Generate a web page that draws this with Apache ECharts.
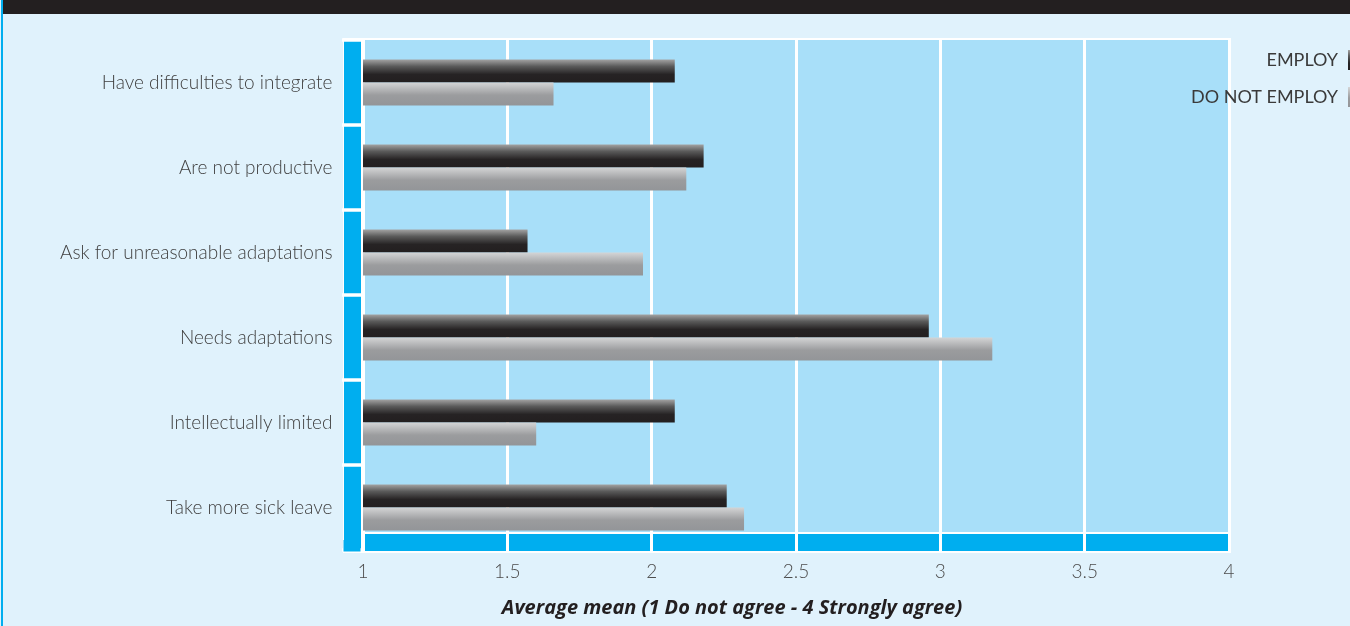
<!DOCTYPE html>
<html>
<head>
<meta charset="utf-8">
<script src="https://cdn.jsdelivr.net/npm/echarts@6/dist/echarts.min.js"></script>
<style>
  html, body { margin: 0; padding: 0; background: #e0f2fc; }
  #chart { width: 1350px; height: 626px; }
</style>
</head>
<body>
<div id="chart"></div>
<script>
// Statements about employees with disabilities, top to bottom
const categories = [
  'Have difficulties to integrate',
  'Are not productive',
  'Ask for unreasonable adaptations',
  'Needs adaptations',
  'Intellectually limited',
  'Take more sick leave'
];
// Average agreement (1 = do not agree, 4 = strongly agree)
const employValues      = [2.08, 2.18, 1.57, 2.96, 2.08, 2.26];
const doNotEmployValues = [1.66, 2.12, 1.97, 3.18, 1.60, 2.32];
const seriesNames = ['EMPLOY', 'DO NOT EMPLOY'];
const xTicks = { min: 1, max: 4, step: 0.5 };
const xAxisTitle = 'Average mean (1 Do not agree - 4 Strongly agree)';

const FONT = 'Lato';
const STRIP = '#00aeef';

const chart = echarts.init(document.getElementById('chart'), null, { renderer: 'canvas' });

const darkGrad = new echarts.graphic.LinearGradient(0, 0, 0, 1, [
  { offset: 0, color: '#a3a3a3' },
  { offset: 0.3, color: '#5a5a5a' },
  { offset: 0.65, color: '#262324' },
  { offset: 1, color: '#231f20' }
]);
const greyGrad = new echarts.graphic.LinearGradient(0, 0, 0, 1, [
  { offset: 0, color: '#d4d5d6' },
  { offset: 0.55, color: '#9b9c9e' },
  { offset: 1, color: '#939598' }
]);

const legendBase = {
  orient: 'vertical',
  right: -18,
  padding: 0,
  align: 'right',
  icon: 'rect',
  itemWidth: 20,
  itemHeight: 20,
  textStyle: { fontFamily: FONT, fontSize: 18, color: '#3a3a3a', padding: [0, 5, 0, 0] }
};

const xScale = { type: 'value', min: xTicks.min, max: xTicks.max, interval: xTicks.step };

chart.setOption({
  backgroundColor: '#e0f2fc',
  animation: false,
  graphic: [
    // thin coloured rule at the left edge
    { type: 'rect', shape: { x: 1, y: 0, width: 2, height: 626 }, style: { fill: STRIP }, z: -5 },
    // dark heading band
    { type: 'rect', shape: { x: 3, y: 0, width: 1347, height: 14 }, style: { fill: '#231f20' }, z: -5 },
    // white frame around the plot
    { type: 'rect', shape: { x: 343, y: 38, width: 888, height: 515 }, style: { fill: '#ffffff' }, z: -5 },
    // bottom end of the category strip
    { type: 'rect', shape: { x: 343.5, y: 540, width: 17, height: 11.5 }, style: { fill: STRIP }, z: 50 }
  ],
  legend: [
    Object.assign({}, legendBase, { top: 50, data: [seriesNames[0]] }),
    Object.assign({}, legendBase, { top: 87, data: [seriesNames[1]] })
  ],
  grid: [
    // value scale, gridlines and the bottom strip
    { left: 363, right: 121, top: 40, bottom: 94, show: true, backgroundColor: '#a8dff9', borderWidth: 0 },
    // category bands for the bars, running down to the foot of the left strip
    { left: 363, right: 121, top: 40, bottom: 76, show: false }
  ],
  xAxis: [
    Object.assign({}, xScale, {
      gridIndex: 0, position: 'bottom', offset: 10.5, z: 1,
      axisLine: { show: true, lineStyle: { color: STRIP, width: 17, cap: 'butt' } },
      axisTick: { show: false },
      splitLine: { show: true, lineStyle: { color: '#ffffff', width: 3 } },
      axisLabel: { margin: 20, fontFamily: FONT, fontSize: 19, color: '#4d4d4d', fontWeight: 300 },
      name: xAxisTitle, nameLocation: 'middle', nameGap: 56,
      nameTextStyle: {
        fontFamily: 'Open Sans', fontSize: 20, fontWeight: 'bold', fontStyle: 'italic',
        color: '#231f20', padding: [0, 128, 0, 0]
      }
    }),
    Object.assign({}, xScale, {
      gridIndex: 0, position: 'bottom', offset: 0, z: 1.5,
      axisLine: { show: false },
      axisTick: { show: true, length: 19, lineStyle: { color: '#ffffff', width: 3, cap: 'butt' } },
      splitLine: { show: false },
      axisLabel: { show: false }
    }),
    Object.assign({}, xScale, {
      gridIndex: 1, show: false, splitLine: { show: false }
    })
  ],
  yAxis: [
    { type: 'category', gridIndex: 0, show: false, data: categories, inverse: true },
    {
      type: 'category', gridIndex: 1, data: categories, inverse: true,
      position: 'left', offset: 10.5, z: 1,
      axisLine: { show: true, lineStyle: { color: STRIP, width: 17, cap: 'butt' } },
      axisTick: { show: false },
      splitLine: { show: false },
      axisLabel: { margin: 20, fontFamily: FONT, fontSize: 19, color: '#404040', fontWeight: 300 }
    },
    {
      type: 'category', gridIndex: 1, data: categories, inverse: true,
      position: 'left', offset: 0, z: 1.5,
      axisLine: { show: false },
      axisTick: { show: true, length: 21, lineStyle: { color: '#ffffff', width: 3.5, cap: 'butt' } },
      splitLine: { show: false },
      axisLabel: { show: false }
    }
  ],
  series: [
    {
      name: seriesNames[0], type: 'bar', data: employValues,
      xAxisIndex: 2, yAxisIndex: 1,
      barWidth: 23, barGap: '0%',
      itemStyle: { color: darkGrad }
    },
    {
      name: seriesNames[1], type: 'bar', data: doNotEmployValues,
      xAxisIndex: 2, yAxisIndex: 1,
      barWidth: 23, barGap: '0%',
      itemStyle: { color: greyGrad }
    }
  ]
});
</script>
</body>
</html>
